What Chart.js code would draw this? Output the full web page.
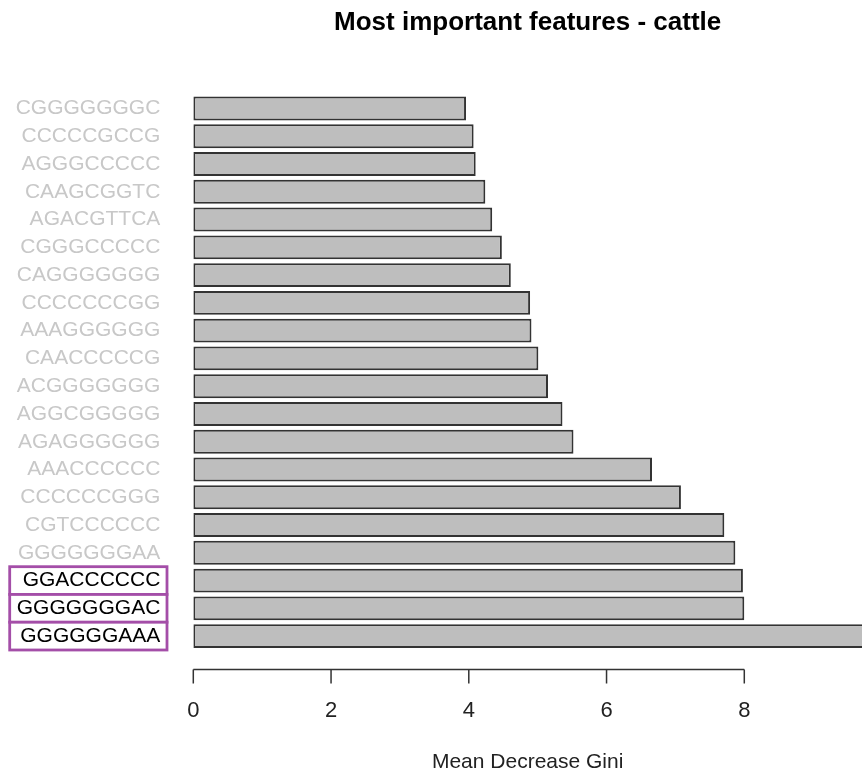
<!DOCTYPE html>
<html>
<head>
<meta charset="utf-8">
<title>Most important features - cattle</title>
<script src="https://cdn.jsdelivr.net/npm/chart.js@4/dist/chart.umd.min.js"></script>
<style>
  html, body { margin: 0; padding: 0; background: #ffffff; }
  #wrap { position: relative; width: 862px; height: 774px; }
</style>
</head>
<body>
<div id="wrap"><canvas id="chart"></canvas></div>
<script>
// k-mer features, listed top to bottom
const features = [
  'CGGGGGGGC', 'CCCCCGCCG', 'AGGGCCCCC', 'CAAGCGGTC', 'AGACGTTCA',
  'CGGGCCCCC', 'CAGGGGGGG', 'CCCCCCCGG', 'AAAGGGGGG', 'CAACCCCCG',
  'ACGGGGGGG', 'AGGCGGGGG', 'AGAGGGGGG', 'AAACCCCCC', 'CCCCCCGGG',
  'CGTCCCCCC', 'GGGGGGGAA', 'GGACCCCCC', 'GGGGGGGAC', 'GGGGGGAAA'
];

// Mean Decrease Gini for each feature
const meanDecreaseGini = [
  3.96, 4.07, 4.10, 4.24, 4.34,
  4.48, 4.61, 4.89, 4.91, 5.01,
  5.15, 5.36, 5.52, 6.66, 7.08,
  7.71, 7.87, 7.98, 8.00, 9.90
];

// features outlined as the top three
const highlighted = ['GGACCCCCC', 'GGGGGGGAC', 'GGGGGGAAA'];

// x axis tick values
const xTicks = [0, 2, 4, 6, 8];

const FONT = '"Liberation Sans", Arial, Helvetica, sans-serif';

// white page, then the purple boxes behind the highlighted labels
const backgroundAndBoxes = {
  id: 'backgroundAndBoxes',
  beforeDraw(chart) {
    const { ctx, width, height } = chart;
    ctx.save();
    ctx.fillStyle = '#ffffff';
    ctx.fillRect(0, 0, width, height);
    const y = chart.scales.y;
    const half = (y.getPixelForValue(1) - y.getPixelForValue(0)) / 2;
    ctx.strokeStyle = '#a44ea8';
    ctx.lineWidth = 2.8;
    highlighted.forEach(name => {
      const i = features.indexOf(name);
      const c = y.getPixelForValue(i);
      ctx.fillStyle = '#ffffff';
      ctx.fillRect(9.7, c - half, 157.3, half * 2);
      ctx.strokeRect(9.7, c - half, 157.3, half * 2);
    });
    ctx.restore();
  }
};

// base-graphics style x axis: line spans first to last tick only
const bottomAxis = {
  id: 'bottomAxis',
  afterDraw(chart) {
    const { ctx } = chart;
    const x = chart.scales.x;
    const lineY = 669.5;
    const x0 = x.getPixelForValue(xTicks[0]);
    const x1 = x.getPixelForValue(xTicks[xTicks.length - 1]);
    ctx.save();
    ctx.strokeStyle = '#333333';
    ctx.lineWidth = 1.5;
    ctx.beginPath();
    ctx.moveTo(x0, lineY);
    ctx.lineTo(x1, lineY);
    xTicks.forEach(v => {
      const px = x.getPixelForValue(v);
      ctx.moveTo(px, lineY);
      ctx.lineTo(px, lineY + 14);
    });
    ctx.stroke();
    ctx.fillStyle = '#222222';
    ctx.textAlign = 'center';
    ctx.textBaseline = 'middle';
    ctx.font = '22px ' + FONT;
    xTicks.forEach(v => {
      ctx.fillText(String(v), x.getPixelForValue(v), 711);
    });
    ctx.font = '21px ' + FONT;
    ctx.fillText('Mean Decrease Gini', (chart.chartArea.left + chart.chartArea.right) / 2, 762);
    ctx.restore();
  }
};

new Chart(document.getElementById('chart'), {
  type: 'bar',
  data: {
    labels: features,
    datasets: [{
      data: meanDecreaseGini,
      backgroundColor: '#bebebe',
      borderColor: '#333333',
      borderWidth: 2,
      borderSkipped: false,
      barPercentage: 0.86,
      categoryPercentage: 1.0
    }]
  },
  options: {
    indexAxis: 'y',
    responsive: true,
    maintainAspectRatio: false,
    animation: false,
    layout: { padding: { top: 0, right: 0, bottom: 124, left: 0 } },
    plugins: {
      legend: { display: false },
      tooltip: { enabled: false },
      title: {
        display: true,
        fullSize: false,
        text: 'Most important features - cattle',
        color: '#000000',
        font: { family: FONT, size: 26, weight: 'bold', lineHeight: 1.2 },
        padding: { top: 7, bottom: 56.4 }
      }
    },
    scales: {
      x: {
        type: 'linear',
        display: false,
        min: 0,
        max: 9.709
      },
      y: {
        type: 'category',
        offset: true,
        grid: { display: false, drawTicks: false },
        border: { display: false },
        afterFit(scale) { scale.width = 193.3; },
        ticks: {
          padding: 33,
          autoSkip: false,
          font: { family: FONT, size: 21 },
          color: ctx => highlighted.includes(features[ctx.index]) ? '#000000' : '#c8c8c8'
        }
      }
    }
  },
  plugins: [backgroundAndBoxes, bottomAxis]
});
</script>
</body>
</html>
